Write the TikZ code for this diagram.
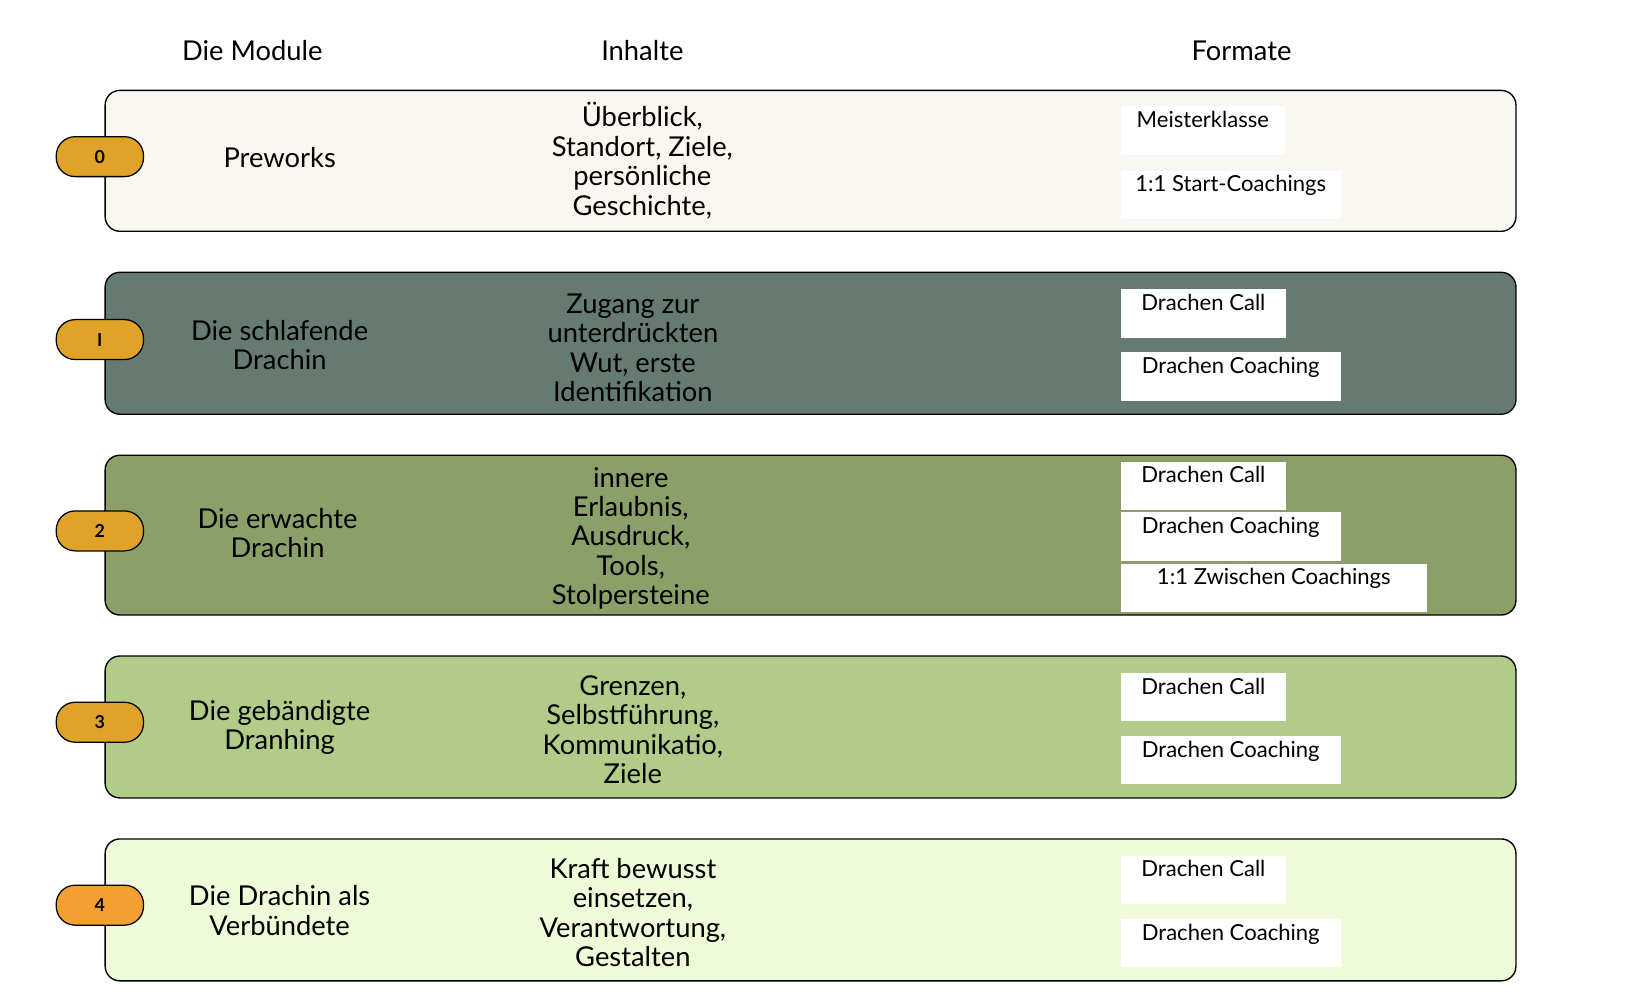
\documentclass[tikz,border=0pt]{standalone}
\usepackage{fontspec}
\setmainfont{Lato}
\definecolor{c0}{HTML}{FAF6F0}
\definecolor{c1}{HTML}{657A70}
\definecolor{c2}{HTML}{8AA068}
\definecolor{c3}{HTML}{B0CC88}
\definecolor{c4}{HTML}{EEFAD8}
\definecolor{bd}{HTML}{E0A328}
\definecolor{bd4}{HTML}{F4A030}
\begin{document}
\begin{tikzpicture}[x=1pt,y=-1pt,
  row/.style={draw=black,line width=1.3pt,rounded corners=14pt},
  badge/.style={draw=black,line width=1.2pt,rounded corners=18pt,minimum width=83pt,minimum height=38pt,font=\fontsize{17}{17}\selectfont\bfseries},
  hdr/.style={font=\fontsize{26}{28}\selectfont},
  txt/.style={font=\fontsize{26}{28}\selectfont,align=center},
  fmt/.style={fill=white,anchor=north west,inner sep=4pt,font=\fontsize{21}{22}\selectfont,text depth=22pt,minimum height=42pt,text height=16pt}]
\useasboundingbox (0,0) rectangle (1560,951);
\node[hdr] (h1) at (240,48) {Die Module};
\node[hdr] (h2) at (611,48) {Inhalte};
\node[hdr] (h3) at (1181,48) {Formate};
% rows
\foreach \t/\b/\c [count=\i from 0] in {86/220/c0,259/394/c1,433/585/c2,624/759/c3,798/933/c4}{
  \draw[row,fill=\c] (100,\t) rectangle (1442,\b);
}
\node[badge,fill=bd] (b0) at (95,149) {0};
\node[badge,fill=bd] (b1) at (95,323) {I};
\node[badge,fill=bd] (b2) at (95,505) {2};
\node[badge,fill=bd] (b3) at (95,687) {3};
\node[badge,fill=bd4] (b4) at (95,861) {4};
\node[txt] (m0) at (266,150) {Preworks};
\node[txt] (m1) at (266,328) {Die schlafende\\Drachin};
\node[txt] (m2) at (264,507) {Die erwachte\\Drachin};
\node[txt] (m3) at (266,692) {Die gebändigte\\Dranhing};
\node[txt] (m4) at (266,866) {Die Drachin als\\Verbündete};
\node[txt] (i0) at (611,153) {Überblick,\\Standort, Ziele,\\persönliche\\Geschichte,};
\node[txt] (i1) at (602,331) {Zugang zur\\unterdrückten\\Wut, erste\\Identifikation};
\node[txt] (i2) at (600,512) {innere\\Erlaubnis,\\Ausdruck,\\Tools,\\Stolpersteine};
\node[txt] (i3) at (602,694) {Grenzen,\\Selbstführung,\\Kommunikatio,\\Ziele};
\node[txt] (i4) at (602,868) {Kraft bewusst\\einsetzen,\\Verantwortung,\\Gestalten};
% formats
\node[fmt,minimum width=156pt] (f01) at (1066,101) {Meisterklasse};
\node[fmt,minimum width=209pt] (f02) at (1066,162) {1:1 Start-Coachings};
\node[fmt,minimum width=157pt] (f11) at (1066,275) {Drachen Call};
\node[fmt,minimum width=209pt] (f12) at (1066,335) {Drachen Coaching};
\node[fmt,minimum width=157pt] (f21) at (1066,439) {Drachen Call};
\node[fmt,minimum width=209pt] (f22) at (1066,487) {Drachen Coaching};
\node[fmt,minimum width=291pt] (f23) at (1066,536) {1:1 Zwischen Coachings};
\node[fmt,minimum width=157pt] (f31) at (1066,640) {Drachen Call};
\node[fmt,minimum width=209pt] (f32) at (1066,700) {Drachen Coaching};
\node[fmt,minimum width=157pt] (f41) at (1066,814) {Drachen Call};
\node[fmt,minimum width=209pt] (f42) at (1066,874) {Drachen Coaching};
\end{tikzpicture}
\end{document}
